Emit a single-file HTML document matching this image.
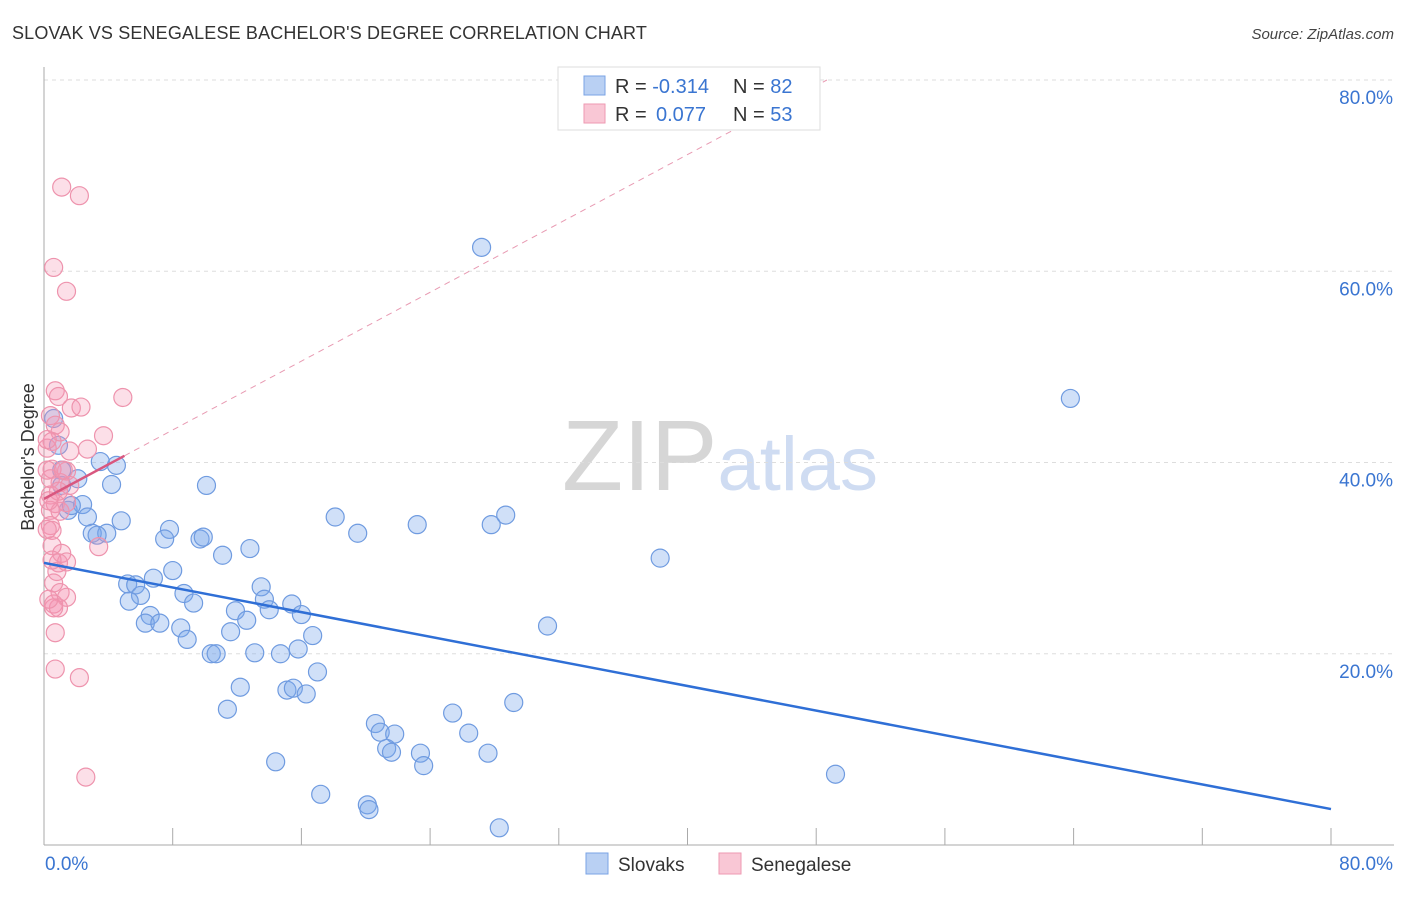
<!DOCTYPE html>
<html><head><meta charset="utf-8"><style>
body{margin:0;background:#fff;font-family:"Liberation Sans",sans-serif;}
svg text{font-family:"Liberation Sans",sans-serif;}
</style></head><body>
<svg id="chart" width="1406" height="892" xmlns="http://www.w3.org/2000/svg">
<text x="12" y="39" font-size="18" fill="#333" letter-spacing="0.15">SLOVAK VS SENEGALESE BACHELOR'S DEGREE CORRELATION CHART</text>
<text x="1394" y="39" font-size="15" fill="#444" text-anchor="end" font-style="italic">Source: ZipAtlas.com</text>
<text x="720" y="490" font-size="100" text-anchor="middle" fill="#ddd" font-family="Liberation Serif"><tspan fill="#d6d6d6">ZIP</tspan><tspan fill="#cfdcf2" font-family="Liberation Sans" font-size="76">atlas</tspan></text>
<g id="grid"></g>
<g id="axes"></g>
<g id="pts"></g>
<g id="lines"></g>
<text transform="translate(34,457) rotate(-90)" font-size="18" fill="#333" text-anchor="middle">Bachelor's Degree</text>
<g>
<rect x="558" y="67" width="262" height="63" fill="#fff" stroke="#ddd"/>
<rect x="584" y="76" width="21" height="19" fill="#b9d0f3" stroke="#7aa3e5"/>
<rect x="584" y="104" width="21" height="19" fill="#f9c7d5" stroke="#ee9ab2"/>
<text x="615" y="93" font-size="20" fill="#333">R = <tspan fill="#3a75d1">-0.314</tspan><tspan x="733">N = </tspan><tspan fill="#3a75d1">82</tspan></text>
<text x="615" y="121" font-size="20" fill="#333">R = <tspan fill="#3a75d1" x="656">0.077</tspan><tspan x="733">N = </tspan><tspan fill="#3a75d1">53</tspan></text>
</g>
<g>
<rect x="586" y="853" width="22" height="21" fill="#b9d0f3" stroke="#7aa3e5"/>
<text x="618" y="871" font-size="19" fill="#333">Slovaks</text>
<rect x="719" y="853" width="22" height="21" fill="#f9c7d5" stroke="#ee9ab2"/>
<text x="751" y="871" font-size="19" fill="#333">Senegalese</text>
</g>
</svg>
<script>
const yTicks=[20,40,60,80];
const yTickLabels=["20.0%","40.0%","60.0%","80.0%"];
const xTickValues=[0,8,16,24,32,40,48,56,64,72,80];
const xEndLabels=["0.0%","80.0%"];
const slovakX=[27.2,63.8,3.5,4.5,4.2,10.1,0.9,0.6,2.1,1.1,1.5,2.4,1.7,2.7,4.8,3.0,3.9,3.3,7.8,7.5,9.7,9.9,11.1,12.8,18.1,19.5,23.2,27.8,28.7,38.3,8.0,6.8,5.2,5.7,6.0,5.3,8.7,9.3,6.6,6.3,7.2,8.5,8.9,11.9,12.6,11.6,13.5,13.7,14.0,15.4,16.0,16.7,15.8,10.4,10.7,13.1,14.7,17.0,31.3,12.2,11.4,15.1,15.5,16.3,25.4,20.6,20.9,21.8,26.4,21.3,21.6,23.4,27.6,23.6,29.2,14.4,17.2,20.1,20.2,28.3,49.2,1.1];
const slovakY=[62.5,46.7,40.1,39.7,37.7,37.6,41.8,44.6,38.3,37.6,35.0,35.6,35.5,34.3,33.9,32.6,32.6,32.4,33.0,32.0,32.0,32.2,30.3,31.0,34.3,32.6,33.5,33.5,34.5,30.0,28.7,27.9,27.3,27.2,26.1,25.5,26.3,25.3,24.0,23.2,23.2,22.7,21.5,24.5,23.5,22.3,27.0,25.7,24.6,25.2,24.1,21.9,20.5,20.0,20.0,20.1,20.0,18.1,22.9,16.5,14.2,16.2,16.4,15.8,13.8,12.7,11.8,11.6,11.7,10.1,9.7,9.6,9.6,8.3,14.9,8.7,5.3,4.2,3.7,1.8,7.4,39.2];
const senX=[1.1,2.2,0.6,1.4,0.7,0.9,4.9,1.7,2.3,0.4,0.7,1.0,3.7,0.5,0.2,2.7,1.6,0.5,1.4,0.4,1.0,1.6,0.4,0.7,0.4,1.0,0.4,0.5,0.5,3.4,1.1,0.9,1.4,0.6,1.0,1.4,0.6,0.9,0.6,0.7,0.7,2.2,2.6,0.3,0.2,0.2,0.2,0.8,0.3,1.2,1.4,0.5,0.9];
const senY=[68.8,67.9,60.4,57.9,47.5,46.9,46.8,45.7,45.8,44.9,43.9,43.2,42.8,42.2,41.5,41.4,41.2,39.3,39.1,38.3,37.9,37.6,36.6,35.7,35.0,34.9,33.4,32.9,31.3,31.2,30.5,29.5,29.6,27.4,26.4,25.9,25.2,24.8,24.8,22.2,18.4,17.5,7.1,36.0,39.2,42.4,33.0,28.6,25.7,39.2,35.8,29.8,37.0];
const slovakTrend=[29.5,3.76];
const senTrend=[36.2,40.7];

const NS="http://www.w3.org/2000/svg";
const X=v=>44+v*16.0875, Y=v=>845-v*9.5625;
function mk(tag,attrs,parent){const e=document.createElementNS(NS,tag);for(const k in attrs)e.setAttribute(k,attrs[k]);parent.appendChild(e);return e;}
const grid=document.getElementById('grid'),axes=document.getElementById('axes'),pts=document.getElementById('pts'),lines=document.getElementById('lines');
yTicks.forEach((t,i)=>{
  const l=mk('line',{x1:44,x2:1394,y1:Y(t),y2:Y(t),stroke:'#ddd','stroke-dasharray':'4,4'},grid);
  
  
  const tx=mk('text',{x:1393,y:Y(t)+24,'font-size':19,fill:'#3a75d1','text-anchor':'end'},axes);
  tx.textContent=yTickLabels[i];
  
  
});
mk('line',{x1:44,x2:44,y1:67,y2:845,stroke:'#aaa'},axes);
mk('line',{x1:44,x2:1394,y1:845,y2:845,stroke:'#aaa'},axes);
xTickValues.forEach(t=>{
  const l=mk('line',{x1:X(t),x2:X(t),y1:828,y2:845,stroke:'#aaa'},axes);
  
  
});
[[0,'start',45],[80,'end',1393]].forEach((a,i)=>{
  const tx=mk('text',{x:a[2],y:870,'font-size':19,fill:'#3a75d1','text-anchor':a[1]},axes);
  tx.textContent=xEndLabels[i];
  
  
});
slovakX.forEach((x,i)=>{
  const c=mk('circle',{cx:X(x),cy:Y(slovakY[i]),r:9,fill:'rgba(120,165,235,0.35)',stroke:'#6f9be0','stroke-width':1.2},pts);
  
  
});
senX.forEach((x,i)=>{
  const c=mk('circle',{cx:X(x),cy:Y(senY[i]),r:9,fill:'rgba(245,150,180,0.3)',stroke:'#ee93ad','stroke-width':1.2},pts);
  
  
});
const bl=mk('line',{x1:X(0),y1:Y(slovakTrend[0]),x2:X(80),y2:Y(slovakTrend[1]),stroke:'#2f6fd6','stroke-width':2.5},lines);


const slope=(senTrend[1]-senTrend[0])/5;
const xEnd=Math.min(80,(80-senTrend[0])/slope);
const dl=mk('line',{x1:X(5),y1:Y(senTrend[1]),x2:X(xEnd),y2:Y(senTrend[0]+slope*xEnd),stroke:'#e89ab2','stroke-width':1,'stroke-dasharray':'6,5'},lines);


const pl=mk('line',{x1:X(0),y1:Y(senTrend[0]),x2:X(5),y2:Y(senTrend[1]),stroke:'#d9577f','stroke-width':2.5},lines);


</script>
</body></html>
